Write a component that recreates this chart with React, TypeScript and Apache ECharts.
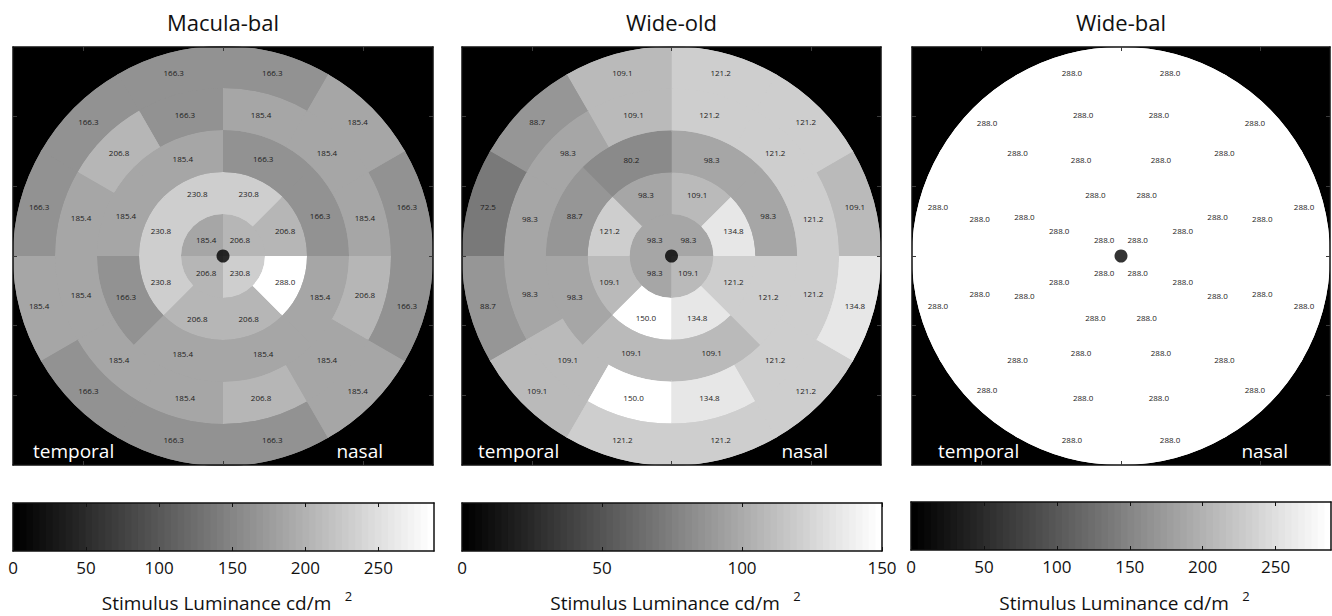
import React, { useEffect, useRef } from "react";
import * as echarts from "echarts";

// Panel titles
const panelTitles = ["Macula-bal", "Wide-old", "Wide-bal"];

// Stimulus layout: ring edges in degrees of eccentricity, sectors per ring,
// radius where each ring's value is printed
const ringEdges = [0, 6, 12, 18, 24, 30];
const sectorsPerRing = [4, 8, 8, 12, 12];
const ringLabelRadius = [3.4, 9.6, 15, 21, 27.2];

// Luminance per ring, sectors listed counter-clockwise starting at 0° (nasal, right)
const maculaBalRing1 = [206.8, 185.4, 206.8, 230.8];
const maculaBalRing2 = [206.8, 230.8, 230.8, 230.8, 230.8, 206.8, 206.8, 288.0];
const maculaBalRing3 = [166.3, 166.3, 185.4, 185.4, 166.3, 185.4, 185.4, 185.4];
const maculaBalRing4 = [185.4, 185.4, 185.4, 166.3, 206.8, 185.4, 185.4, 185.4, 185.4, 206.8, 185.4, 206.8];
const maculaBalRing5 = [166.3, 185.4, 166.3, 166.3, 166.3, 166.3, 185.4, 166.3, 166.3, 166.3, 185.4, 166.3];

const wideOldRing1 = [98.3, 98.3, 98.3, 109.1];
const wideOldRing2 = [134.8, 109.1, 98.3, 121.2, 109.1, 150.0, 134.8, 121.2];
const wideOldRing3 = [98.3, 98.3, 80.2, 88.7, 98.3, 109.1, 109.1, 121.2];
const wideOldRing4 = [121.2, 121.2, 121.2, 109.1, 98.3, 98.3, 98.3, 109.1, 150.0, 134.8, 121.2, 121.2];
const wideOldRing5 = [109.1, 121.2, 121.2, 109.1, 88.7, 72.5, 88.7, 109.1, 121.2, 121.2, 121.2, 134.8];

const wideBalRing1 = [288.0, 288.0, 288.0, 288.0];
const wideBalRing2 = [288.0, 288.0, 288.0, 288.0, 288.0, 288.0, 288.0, 288.0];
const wideBalRing3 = [288.0, 288.0, 288.0, 288.0, 288.0, 288.0, 288.0, 288.0];
const wideBalRing4 = [288.0, 288.0, 288.0, 288.0, 288.0, 288.0, 288.0, 288.0, 288.0, 288.0, 288.0, 288.0];
const wideBalRing5 = [288.0, 288.0, 288.0, 288.0, 288.0, 288.0, 288.0, 288.0, 288.0, 288.0, 288.0, 288.0];

const panelRings = [
  [maculaBalRing1, maculaBalRing2, maculaBalRing3, maculaBalRing4, maculaBalRing5],
  [wideOldRing1, wideOldRing2, wideOldRing3, wideOldRing4, wideOldRing5],
  [wideBalRing1, wideBalRing2, wideBalRing3, wideBalRing4, wideBalRing5],
];

// Colour scale limits and colorbar tick labels
const colorbarMax = [288, 150, 288];
const colorbarTicks = [
  [0, 50, 100, 150, 200, 250],
  [0, 50, 100, 150],
  [0, 50, 100, 150, 200, 250],
];
const colorbarLabel = "Stimulus Luminance cd/m";
const colorbarLabelSup = "2";

// Visual-field axis range and tick marks (degrees)
const fieldExtent = 30;
const fieldTicksX = [-20, 0, 20];
const fieldTicksY = [-20, -10, 0, 10, 20];

// Gray colormap with 64 entries
const colormapSize = 64;
const colormapLevels = Array.from({ length: colormapSize }, (_, i) => i);

const FONT = "'Open Sans', 'Noto Sans', sans-serif";

const grayOf = (level: number) => {
  const g = Math.round((level / (colormapSize - 1)) * 255);
  return `rgb(${g},${g},${g})`;
};
const levelOf = (v: number, max: number) =>
  Math.max(0, Math.min(colormapSize - 1, Math.floor((v / max) * colormapSize)));

// Layout of the three field plots and their colorbars (pixels)
const panelBoxes = [
  { left: 13, top: 47, width: 420, height: 418 },
  { left: 462, top: 47, width: 419, height: 418 },
  { left: 912, top: 47, width: 418, height: 418 },
];
const temporalInset = [20, 16, 26];
const nasalInset = [50, 53, 42];
const barBoxes = [
  { left: 13, top: 503, width: 421, height: 48 },
  { left: 462, top: 503, width: 420, height: 48 },
  { left: 911, top: 502, width: 420, height: 48 },
];

const AXIS_COLOR = "#111";
const TICK_COLOR = "#3a3a3a";

// Geometry of one stimulus patch in pixels; `pad` widens it on every inner side
// (used for the underlay pass that hides anti-aliasing seams).
function patchShape(api: any, r: number, k: number, pad: number) {
  const step = (2 * Math.PI) / sectorsPerRing[r];
  const c = api.coord([0, 0]);
  const unit = api.size([1, 0])[0];
  const rIn = ringEdges[r] * unit;
  const rOut = ringEdges[r + 1] * unit;
  const isOuter = r === ringEdges.length - 2;
  const da = pad > 0 ? pad / Math.max(rIn, 6) : 0;
  const a0 = k * step - da;
  const a1 = (k + 1) * step + da;
  return {
    c,
    unit,
    shape: {
      cx: c[0],
      cy: c[1],
      r0: Math.max(0, rIn - pad),
      r: isOuter ? rOut : rOut + pad,
      startAngle: -a1,
      endAngle: -a0,
      clockwise: true,
    },
  };
}

function buildOption() {
  const grid: any[] = [];
  const xAxis: any[] = [];
  const yAxis: any[] = [];
  const series: any[] = [];
  const graphic: any[] = [];

  panelBoxes.forEach((box, p) => {
    const max = colorbarMax[p];
    const gi = grid.length;
    grid.push({ ...box, show: true, backgroundColor: "#000", borderWidth: 0 });
    const base = {
      gridIndex: gi,
      type: "value",
      min: -fieldExtent,
      max: fieldExtent,
      z: 5,
      axisLine: { show: true, onZero: false, lineStyle: { color: AXIS_COLOR, width: 1.5 } },
      axisLabel: { show: false },
      splitLine: { show: false },
    };
    const xi = xAxis.length;
    xAxis.push({ ...base, position: "bottom", axisTick: { inside: true, length: 4, customValues: fieldTicksX, lineStyle: { color: TICK_COLOR } } });
    xAxis.push({ ...base, position: "top", axisTick: { inside: true, length: 4, customValues: fieldTicksX, lineStyle: { color: TICK_COLOR } } });
    const yi = yAxis.length;
    yAxis.push({ ...base, position: "left", axisTick: { inside: true, length: 4, customValues: fieldTicksY, lineStyle: { color: TICK_COLOR } } });
    yAxis.push({ ...base, position: "right", axisTick: { inside: true, length: 4, customValues: fieldTicksY, lineStyle: { color: TICK_COLOR } } });

    // Rows [ring, sector, luminance]
    const rows: number[][] = [];
    panelRings[p].forEach((ring, r) => ring.forEach((v, k) => rows.push([r, k, v])));

    // underlay: each patch slightly enlarged
    series.push({
      type: "custom",
      xAxisIndex: xi,
      yAxisIndex: yi,
      data: rows,
      z: 1,
      silent: true,
      renderItem: (_params: any, api: any) => {
        const r = api.value(0);
        const k = api.value(1);
        const fill = grayOf(levelOf(api.value(2), max));
        return { type: "sector", shape: patchShape(api, r, k, 1.2).shape, style: { fill } };
      },
    });

    // exact patches with their luminance printed inside
    series.push({
      type: "custom",
      xAxisIndex: xi,
      yAxisIndex: yi,
      data: rows,
      z: 2,
      renderItem: (_params: any, api: any) => {
        const r = api.value(0);
        const k = api.value(1);
        const v = api.value(2);
        const fill = grayOf(levelOf(v, max));
        const { c, unit, shape } = patchShape(api, r, k, 0);
        const am = ((k + 0.5) * 2 * Math.PI) / sectorsPerRing[r];
        const rl = ringLabelRadius[r] * unit;
        return {
          type: "group",
          children: [
            { type: "sector", shape, style: { fill } },
            {
              type: "text",
              z2: 10,
              x: c[0] + rl * Math.cos(am),
              y: c[1] - rl * Math.sin(am),
              style: {
                text: v.toFixed(1),
                fill: "#1c1c1c",
                fontSize: 8,
                fontFamily: FONT,
                align: "center",
                verticalAlign: "middle",
              },
            },
          ],
        };
      },
    });

    // fixation point
    series.push({
      type: "scatter",
      xAxisIndex: xi,
      yAxisIndex: yi,
      data: [[0, 0]],
      symbolSize: 13,
      itemStyle: { color: "#000" },
      z: 6,
      silent: true,
    });

    const cx = box.left + box.width / 2;
    graphic.push({
      type: "text",
      x: cx,
      y: 22,
      style: { text: panelTitles[p], fill: "#111", fontSize: 22, fontFamily: FONT, align: "center", verticalAlign: "middle" },
    });
    graphic.push({
      type: "text",
      x: box.left + temporalInset[p],
      y: 451,
      z: 20,
      style: { text: "temporal", fill: "#fff", fontSize: 19, fontFamily: FONT, align: "left", verticalAlign: "middle" },
    });
    graphic.push({
      type: "text",
      x: box.left + box.width - nasalInset[p],
      y: 451,
      z: 20,
      style: { text: "nasal", fill: "#fff", fontSize: 19, fontFamily: FONT, align: "right", verticalAlign: "middle" },
    });
  });

  barBoxes.forEach((box, p) => {
    const max = colorbarMax[p];
    const gi = grid.length;
    grid.push({ ...box, show: false });
    const xBase = {
      gridIndex: gi,
      type: "value",
      min: 0,
      max,
      z: 5,
      axisLine: { show: true, onZero: false, lineStyle: { color: AXIS_COLOR, width: 1.5 } },
      splitLine: { show: false },
    };
    const xi = xAxis.length;
    xAxis.push({
      ...xBase,
      position: "bottom",
      axisTick: { inside: true, length: 4, customValues: colorbarTicks[p], lineStyle: { color: AXIS_COLOR } },
      axisLabel: {
        show: true,
        customValues: colorbarTicks[p],
        margin: 8,
        color: "#111",
        fontSize: 17,
        fontFamily: FONT,
      },
    });
    xAxis.push({
      ...xBase,
      position: "top",
      axisTick: { inside: true, length: 4, customValues: colorbarTicks[p], lineStyle: { color: AXIS_COLOR } },
      axisLabel: { show: false },
    });
    const yBase = {
      gridIndex: gi,
      type: "value",
      min: 0,
      max: 1,
      z: 5,
      axisLine: { show: true, onZero: false, lineStyle: { color: AXIS_COLOR, width: 1.5 } },
      axisTick: { show: false },
      axisLabel: { show: false },
      splitLine: { show: false },
    };
    const yi = yAxis.length;
    yAxis.push({ ...yBase, position: "left" });
    yAxis.push({ ...yBase, position: "right" });

    // Colormap steps, each painted from its start to the end of the bar so the
    // next step overlays it without gaps.
    series.push({
      type: "custom",
      xAxisIndex: xi,
      yAxisIndex: yi,
      data: colormapLevels.map((i) => [i, 0]),
      z: 2,
      renderItem: (_params: any, api: any) => {
        const i = api.value(0);
        const p0 = api.coord([(i * max) / colormapSize, 1]);
        const p1 = api.coord([max, 0]);
        return {
          type: "rect",
          shape: { x: p0[0], y: p0[1], width: p1[0] - p0[0], height: p1[1] - p0[1] },
          style: { fill: grayOf(i) },
        };
      },
    });

    const cx = box.left + box.width / 2 - 7;
    graphic.push({
      type: "text",
      x: cx,
      y: 603,
      style: { text: colorbarLabel, fill: "#111", fontSize: 19, fontFamily: FONT, align: "center", verticalAlign: "middle" },
    });
    graphic.push({
      type: "text",
      x: cx + 132,
      y: 596,
      style: { text: colorbarLabelSup, fill: "#111", fontSize: 13, fontFamily: FONT, align: "center", verticalAlign: "middle" },
    });
  });

  return { animation: false, backgroundColor: "#fff", grid, xAxis, yAxis, series, graphic };
}

export default function App() {
  const ref = useRef<HTMLDivElement>(null);
  useEffect(() => {
    if (!ref.current) return;
    const chart = echarts.init(ref.current, undefined, { renderer: "svg" });
    chart.setOption(buildOption() as any);
    return () => chart.dispose();
  }, []);
  return <div ref={ref} style={{ position: "fixed", left: 0, top: 0, width: 1332, height: 616 }} />;
}
